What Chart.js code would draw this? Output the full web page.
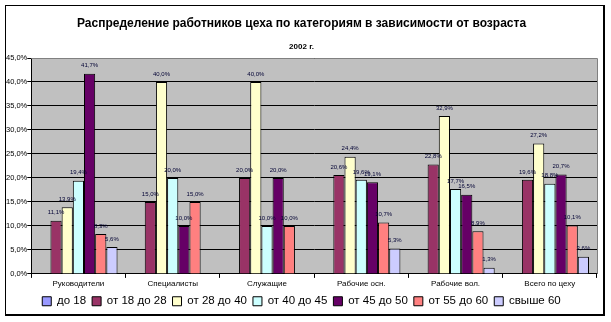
<!DOCTYPE html>
<html>
<head>
<meta charset="utf-8">
<script src="https://cdn.jsdelivr.net/npm/chart.js@4.4.1/dist/chart.umd.min.js"></script>
<style>
  body { margin: 0; background: #fff; }
  #frame { position: absolute; left: 5px; top: 5px; width: 597px; height: 308px; border: 1px solid #000; border-right-width: 2px; border-bottom-width: 2px; }
  #wrap { position: absolute; left: 0; top: 0; width: 611px; height: 322px; }
</style>
</head>
<body>
<div id="frame"></div>
<div id="wrap"><canvas id="chart"></canvas></div>
<script>
const categories = ['Руководители', 'Специалисты', 'Служащие', 'Рабочие осн.', 'Рабочие вол.', 'Всего по цеху'];
const seriesNames = ['до 18', 'от 18 до 28', 'от 28 до 40', 'от 40 до 45', 'от 45 до 50', 'от 55 до 60', 'свыше 60'];
const seriesColors = ['#9999FF', '#993366', '#FFFFCC', '#CCFFFF', '#660066', '#FF8080', '#CCCCFF'];

const under18 = [0, 0, 0, 0, 0, 0];
const from18to28 = [11.1, 15.0, 20.0, 20.6, 22.8, 19.6];
const from28to40 = [13.9, 40.0, 40.0, 24.4, 32.9, 27.2];
const from40to45 = [19.4, 20.0, 10.0, 19.6, 17.7, 18.8];
const from45to50 = [41.7, 10.0, 20.0, 19.1, 16.5, 20.7];
const from55to60 = [8.3, 15.0, 10.0, 10.7, 8.9, 10.1];
const over60 = [5.6, 0, 0, 5.3, 1.3, 3.6];

const yTicksMax = 45;
const yTicksStep = 5;

const seriesValues = [under18, from18to28, from28to40, from40to45, from45to50, from55to60, over60];

const pct = v => v.toFixed(1).replace('.', ',') + '%';

const plotBackground = {
  id: 'plotBackground',
  beforeDraw: chart => {
    const { ctx, chartArea: a } = chart;
    ctx.save();
    ctx.fillStyle = '#C0C0C0';
    ctx.fillRect(a.left, a.top, a.right - a.left, a.bottom - a.top);
    ctx.restore();
  },
  afterDraw: chart => {
    const { ctx, chartArea: a } = chart;
    ctx.save();
    ctx.strokeStyle = '#808080';
    ctx.lineWidth = 1;
    ctx.beginPath();
    ctx.moveTo(a.left, a.top + 0.5);
    ctx.lineTo(a.right + 0.5, a.top + 0.5);
    ctx.lineTo(a.right + 0.5, a.bottom);
    ctx.stroke();
    ctx.restore();
  }
};

const barLabels = {
  id: 'barLabels',
  afterDatasetsDraw: chart => {
    const ctx = chart.ctx;
    ctx.save();
    ctx.font = '6px Arial';
    ctx.fillStyle = '#000033';
    ctx.textAlign = 'center';
    ctx.textBaseline = 'bottom';
    chart.data.datasets.forEach((ds, i) => {
      chart.getDatasetMeta(i).data.forEach((bar, j) => {
        const v = ds.data[j];
        if (v > 0) ctx.fillText(pct(v), bar.x, bar.y - 5);
      });
    });
    ctx.restore();
  }
};

new Chart(document.getElementById('chart'), {
  type: 'bar',
  data: {
    labels: categories,
    datasets: seriesNames.map((name, i) => ({
      label: name,
      data: seriesValues[i],
      backgroundColor: seriesColors[i],
      borderColor: '#000',
      borderWidth: 1,
      categoryPercentage: 0.83,
      barPercentage: 1
    }))
  },
  options: {
    responsive: true,
    maintainAspectRatio: false,
    animation: false,
    layout: { padding: { top: 6, left: 6, right: 14, bottom: 5 } },
    plugins: {
      tooltip: { enabled: false },
      title: {
        display: true,
        text: 'Распределение работников цеха по категориям в зависимости от возраста',
        color: '#000',
        font: { family: 'Arial', size: 12, weight: 'bold' },
        padding: { top: 10, bottom: 12 }
      },
      subtitle: {
        display: true,
        text: '2002 г.',
        color: '#000',
        font: { family: 'Arial', size: 8, weight: 'bold' },
        padding: { top: 0, bottom: 6 }
      },
      legend: {
        position: 'bottom',
        labels: {
          color: '#000',
          font: { family: 'Arial', size: 11.5 },
          boxWidth: 9,
          boxHeight: 9,
          padding: 6
        }
      }
    },
    scales: {
      x: {
        grid: { display: true, drawOnChartArea: false, drawTicks: true, tickLength: 4, color: '#000', offset: true },
        border: { display: true, color: '#000' },
        ticks: { color: '#000', font: { family: 'Arial', size: 8 }, padding: 1, maxRotation: 0 }
      },
      y: {
        min: 0,
        max: yTicksMax,
        grid: { color: '#000', tickLength: 4 },
        border: { display: true, color: '#000' },
        ticks: { stepSize: yTicksStep, color: '#000', font: { family: 'Arial', size: 7.5 }, padding: 0, callback: v => pct(v) }
      }
    }
  },
  plugins: [plotBackground, barLabels]
});
</script>
</body>
</html>
